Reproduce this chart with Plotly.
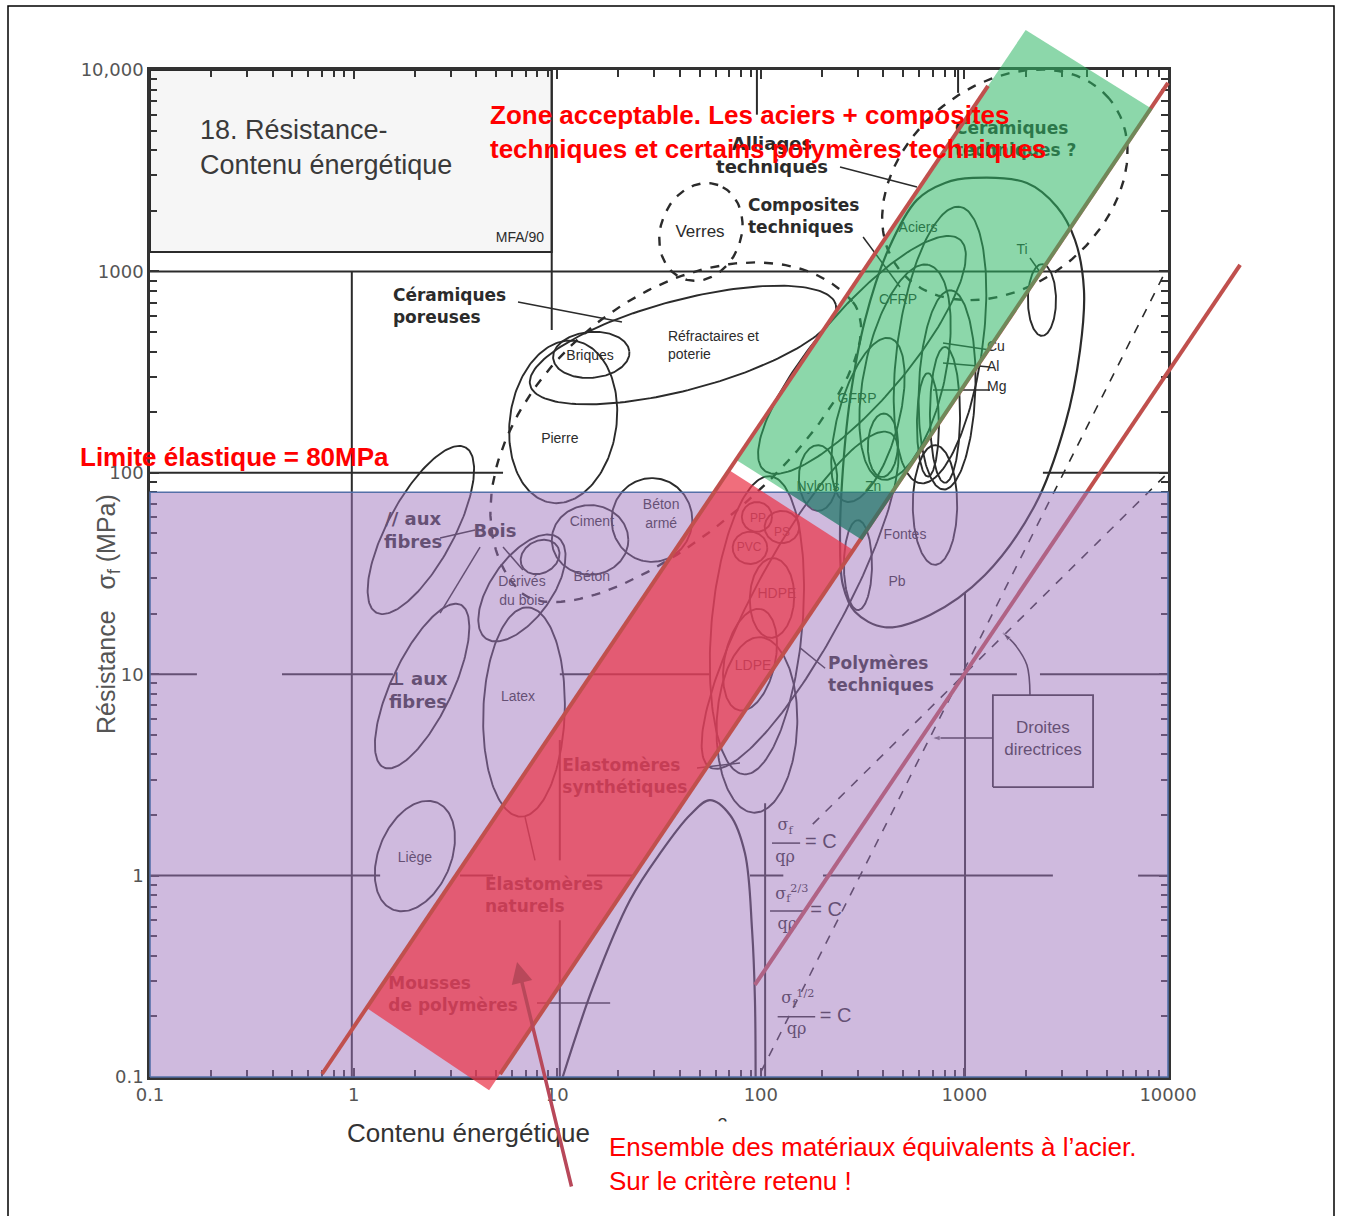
import numpy as np
import plotly.graph_objects as go

# ---------------------------------------------------------------- page geometry
# the figure must fit inside the page body (8 px default margin on each side)
PAGE_W, PAGE_H = 1351, 1232
FW, FH = PAGE_W - 16, PAGE_H - 16
PL, PR, PT, PB = 150, 1168, 70, 1077          # plot-area edges (px from figure corner)
X_LOG = (-1.0, 4.0)                           # 0.1 .. 10000 GJ/m3
Y_LOG = (-1.0, 4.0)                           # 0.1 .. 10000 MPa


def fx(px):
    return px / FW


def fy(py):
    return 1 - py / FH


tick_vals = [0.1, 1, 10, 100, 1000, 10000]
x_tick_text = ["0.1", "1", "10", "100", "1000", "10000"]
y_tick_text = ["0.1", "1", "10", "100", "1000", "10,000"]
minor_vals = [k * 10.0 ** d for d in range(-1, 4) for k in range(2, 10)]

# ---------------------------------------------------------------- chart rules
h_rule_s = [1250, 1000, 100, 100, 10, 10, 10, 10, 10, 1, 1, 1, 1, 1, 1]
h_rule_q0 = [0.1, 0.1, 0.1, 2430, 0.1, 0.445, 10.3, 849, 2350, 0.1, 3.33, 14.0, 88.5, 202, 7130]
h_rule_q1 = [9.4, 10000, 5.42, 10000, 0.17, 1.56, 56.2, 1811, 10000, 1.35, 4.84, 23.6, 129, 2720, 10000]
v_rule_q = [9.4, 0.98, 10.3, 10.3, 95.7, 105, 931, 1007]
v_rule_s0 = [512, 0.1, 1.19, 0.1, 6000, 0.1, 7700, 0.1]
v_rule_s1 = [10000, 1000, 4.71, 0.60, 10000, 2.29, 10000, 25.3]

title_box_q = [0.1, 9.4]
title_box_s = [1250, 10000]

# ---------------------------------------------------------------- envelopes
# ellipses in log-log space: centre (GJ/m3, MPa), half axes (decades), tilt (deg)
env_q = [2.14, 2.17, 2.0, 6.71, 8.24, 6.87, 10.7, 14.7, 41.5, 14.5, 29.2,
         759, 511, 314, 336, 822, 803, 662, 717, 2404, 398, 191, 300,
         95.7, 127, 88.5, 113.5, 88.5, 95.7, 95.7, 156]
env_s = [52.0, 8.73, 1.25, 26.8, 38.2, 6.49, 179, 385, 431, 46.4, 58.3,
         431, 316, 385, 183, 258, 194, 173, 69.2, 721, 137, 94.2, 34.8,
         60.4, 53.8, 42.4, 23.9, 11.8, 17.5, 5.6, 23.3]
env_major = [0.465, 0.446, 0.287, 0.307, 0.10, 0.52, 0.406, 0.188, 0.777, 0.188, 0.198,
             0.693, 0.545, 0.748, 0.42, 0.495, 0.337, 0.257, 0.297, 0.178, 0.158, 0.163, 0.223,
             0.074, 0.085, 0.085, 0.198, 0.257, 0.743, 0.436, 0.941]
env_minor = [0.163, 0.149, 0.178, 0.149, 0.08, 0.20, 0.262, 0.114, 0.223, 0.173, 0.208,
             0.208, 0.198, 0.223, 0.149, 0.139, 0.074, 0.054, 0.109, 0.069, 0.074, 0.094, 0.069,
             0.074, 0.08, 0.08, 0.109, 0.124, 0.223, 0.198, 0.223]
env_tilt = [62, 65, 68, 55, 30, 88, 82, 5, 15, 0, 0,
            82, 78, 50, 75, 88, 90, 90, 90, 90, 88, 90, 90,
            0, 0, 0, 88, 78, 85, 88, 62]

# dashed envelopes: glasses, engineering ceramics, porous ceramics
dash_q = [50.8, 1580, 42.4]
dash_s = [1570, 2690, 137]
dash_major = [0.248, 0.668, 1.089]
dash_minor = [0.198, 0.495, 0.743]
dash_minor_b = [0.198, 0.495, 0.411]
dash_tilt = [70, 40, 41]

metals_q = [1102, 2028, 2851, 3493, 3866, 3698, 3119, 2223, 1262, 678, 407, 290, 253,
            245, 251, 274, 325, 422, 585, 803]
metals_s = [2910, 2748, 2089, 1432, 809, 407, 173, 69.2, 31.1, 19.7, 17.1, 20.4, 27.7,
            46.4, 92, 230, 574, 1277, 2265, 2748]
arch_q = [10.3, 15.0, 22.8, 32.0, 44.9, 56.2, 70.6, 83.6, 90.6, 93.6, 94.3]
arch_s = [0.09, 0.28, 0.757, 1.29, 2.0, 2.37, 2.0, 1.29, 0.537, 0.241, 0.09]

lead_q0 = [6.42, 2.66, 4.18, 5.42, 7.78, 48.6, 7.96, 156, 318, 245, 785, 785, 701, 2100]
lead_s0 = [705, 47.5, 42.8, 42.8, 1.19, 3.42, 0.233, 13.5, 1483, 3300, 441, 351, 258, 1166]
lead_q1 = [20.8, 3.95, 2.66, 6.79, 6.95, 79, 18.2, 207, 483, 585, 1336, 1336, 1336, 2350]
lead_s1 = [561, 52, 20.1, 32.9, 1.95, 3.62, 0.233, 10.7, 837, 2624, 407, 335, 258, 993]

guide_slope = [1.0, 2.0]
guide_const = [0.01, 1.057e-5]
guide_q0 = [180, 100]
guide_q1 = [10000, 9500]

box_q = [1380, 4285]
box_s = [2.75, 7.88]
ptr_h_q = [1380, 690]
ptr_h_s = [4.82, 4.82]
ptr_arc_q = [2100, 2028, 1774, 1549]
ptr_arc_s = [7.88, 11.1, 14.0, 16.0]

frac_q0 = [113.5, 111, 121]
frac_q1 = [156, 165, 185]
frac_s = [1.45, 0.667, 0.199]
frac_num = ["σ<sub>f</sub>", "σ<sub>f</sub><sup>2/3</sup>", "σ<sub>f</sub><sup>1/2</sup>"]
frac_num_q = [131.5, 142, 152]
frac_num_s = [1.76, 0.80, 0.243]
frac_den_q = [131.5, 135, 150]
frac_den_s = [1.22, 0.569, 0.171]
frac_eq_q = [165, 175, 195]

bold_text = ["Bois", "// aux<br>fibres", "⊥ aux<br>fibres", "Alliages<br>techniques"]
bold_q = [4.95, 1.96, 2.07, 113.5]
bold_s = [50.8, 50.8, 8.16, 3700]
boldl_text = ["Céramiques<br>poreuses", "Elastomères<br>synthétiques", "Elastomères<br>naturels",
              "Mousses<br>de polymères", "Polymères<br>techniques", "Composites<br>techniques",
              "Céramiques<br>techniques ?"]
boldl_q = [1.56, 10.6, 4.42, 1.48, 214, 86.5, 899]
boldl_s = [658, 3.05, 0.783, 0.252, 9.8, 1841, 4440]
small_text = ["Briques", "Pierre", "Ciment", "Béton<br>armé", "Béton", "Dérivés<br>du bois",
              "Latex", "Liège", "Aciers", "Ti", "CFRP", "GFRP", "Nylons", "Zn", "Fontes", "Pb",
              "HDPE", "LDPE", "MFA/90"]
small_q = [14.5, 10.3, 14.8, 32.4, 14.8, 6.71, 6.42, 2.0, 592, 1919, 472, 297, 191, 356, 511, 467,
           120, 91.6, 6.56]
small_s = [380, 146, 56.4, 61.7, 30.1, 25.6, 7.62, 1.22, 1642, 1277, 713, 230, 85, 85, 49.1, 28.4,
           25, 10.9, 1465]
tiny_text = ["PP", "PS", "PVC"]
tiny_q = [96.8, 127, 87.5]
tiny_s = [59, 50.2, 42.4]
smalll_text = ["Réfractaires et<br>poterie", "Cu", "Al", "Mg"]
smalll_q = [35.0, 1291, 1291, 1291]
smalll_s = [422, 417, 335, 264]

# ---------------------------------------------------------------- overlays
elastic_limit = 80                     # MPa
band_exp = 1.5                         # sigma^(2/3)/(q rho) = C
band_const = [3.17e-4, 0.00862, 0.1767]
band_q0 = [93.5, 5.24, 0.70]
band_q1 = [22600, 10000, 1306]
red_zone_q = [1.16, 4.63, 284, 70]
red_zone_s = [0.22, 0.086, 41.4, 103]
green_zone_q = [75.5, 315, 8400, 2000]
green_zone_s = [116, 46.4, 6390, 15800]
pointer_tail = (11.8, 0.0281)
pointer_head = (6.35, 0.372)

INK = "#2b2b2b"
RED_LINE = "#C0504D"


def ellipse(q, s, a, b, tilt, b2=None, n=180):
    t = np.linspace(0, 2 * np.pi, n)
    th = np.radians(tilt)
    u = a * np.cos(t)
    bb = np.where(np.sin(t) >= 0, b, b if b2 is None else b2)
    v = bb * np.sin(t)
    lx = np.log10(q) + u * np.cos(th) - v * np.sin(th)
    ly = np.log10(s) + u * np.sin(th) + v * np.cos(th)
    return 10 ** lx, 10 ** ly


def segs(x0, y0, x1, y1):
    xs, ys = [], []
    for a, b, c, d in zip(x0, y0, x1, y1):
        xs += [a, c, None]
        ys += [b, d, None]
    return xs, ys


def clip_below(qs, ss, s_max):
    pts = list(zip(np.log10(qs), np.log10(ss)))
    lim = np.log10(s_max)
    out = []
    for i in range(len(pts)):
        cur, prev = pts[i], pts[i - 1]
        cin, pin = cur[1] <= lim, prev[1] <= lim
        if cin != pin:
            f = (lim - prev[1]) / (cur[1] - prev[1])
            out.append((prev[0] + f * (cur[0] - prev[0]), lim))
        if cin:
            out.append(cur)
    arr = np.array(out)
    return 10 ** arr[:, 0], 10 ** arr[:, 1]


fig = go.Figure()


def line(xs, ys, width=1.8, dash="solid", color=INK, xa="x", ya="y", shape="linear"):
    fig.add_trace(go.Scatter(x=xs, y=ys, mode="lines", xaxis=xa, yaxis=ya,
                             line=dict(color=color, width=width, dash=dash, shape=shape),
                             hoverinfo="skip", showlegend=False))


def text(xs, ys, labels, size, pos="middle center", color=INK, family="DejaVu Sans", bold=False):
    if bold:
        labels = ["<b>" + t + "</b>" for t in labels]
    fig.add_trace(go.Scatter(x=xs, y=ys, mode="text", text=labels, textposition=pos,
                             textfont=dict(size=size, color=color, family=family),
                             cliponaxis=False, hoverinfo="skip", showlegend=False))


# title box
fig.add_trace(go.Scatter(x=[title_box_q[0], title_box_q[1], title_box_q[1], title_box_q[0], title_box_q[0]],
                         y=[title_box_s[0], title_box_s[0], title_box_s[1], title_box_s[1], title_box_s[0]],
                         mode="lines", fill="toself", fillcolor="#f6f6f6",
                         line=dict(color=INK, width=2), hoverinfo="skip", showlegend=False))

hx, hy = segs(h_rule_q0, h_rule_s, h_rule_q1, h_rule_s)
line(hx, hy, width=2)
vx, vy = segs(v_rule_q, v_rule_s0, v_rule_q, v_rule_s1)
line(vx, vy, width=2)

for q, s, a, b, t in zip(env_q, env_s, env_major, env_minor, env_tilt):
    ex, ey = ellipse(q, s, a, b, t)
    line(ex, ey, width=1.9)
for q, s, a, b, b2, t in zip(dash_q, dash_s, dash_major, dash_minor, dash_minor_b, dash_tilt):
    ex, ey = ellipse(q, s, a, b, t, b2)
    line(ex, ey, width=2.4, dash="dash")
line(metals_q + metals_q[:1], metals_s + metals_s[:1], width=2.2, shape="spline")
line(arch_q, arch_s, width=2.2, shape="spline")

lx, ly = segs(lead_q0, lead_s0, lead_q1, lead_s1)
line(lx, ly, width=1.5)

for k, c, q0, q1 in zip(guide_slope, guide_const, guide_q0, guide_q1):
    line([q0, q1], [c * q0 ** k, c * q1 ** k], width=1.6, dash="dash")

line([box_q[0], box_q[1], box_q[1], box_q[0], box_q[0]],
     [box_s[0], box_s[0], box_s[1], box_s[1], box_s[0]], width=1.8)
for px_, py_, shp in [(ptr_h_q, ptr_h_s, "linear"), (ptr_arc_q, ptr_arc_s, "spline")]:
    n = len(px_)
    fig.add_trace(go.Scatter(x=px_, y=py_, mode="lines+markers",
                             line=dict(color=INK, width=1.6, shape=shp),
                             marker=dict(symbol="arrow", angleref="previous", color=INK,
                                         size=[0] * (n - 1) + [9]),
                             hoverinfo="skip", showlegend=False))

bx, by = segs(frac_q0, frac_s, frac_q1, frac_s)
line(bx, by, width=1.5)
text(frac_num_q, frac_num_s, frac_num, 16, family="DejaVu Serif")
text(frac_den_q, frac_den_s, ["qρ"] * 3, 16, family="DejaVu Serif")
text(frac_eq_q, frac_s, ["= C"] * 3, 20, pos="middle right", family="Liberation Sans")

text(bold_q, bold_s, bold_text, 18, bold=True)
text(boldl_q, boldl_s, boldl_text, 17, pos="middle right", bold=True)
text(small_q, small_s, small_text, 14, family="Liberation Sans")
text(tiny_q, tiny_s, tiny_text, 12, family="Liberation Sans")
text(smalll_q, smalll_s, smalll_text, 14, pos="middle right", family="Liberation Sans")
text([2430], [4.71], ["Droites<br>directrices"], 17, family="Liberation Sans")
text([50.3], [1552], ["Verres"], 17, family="Liberation Sans")
text([0.176], [4010], ["18. Résistance-<br>Contenu énergétique"], 27, pos="middle right",
     color="#3a3a3a", family="Liberation Sans")


# ---------------------------------------------------------------- overlay layer
def poly(xs, ys, fill, lw=0, lc="rgba(0,0,0,0)"):
    fig.add_trace(go.Scatter(x=list(xs) + [xs[0]], y=list(ys) + [ys[0]], mode="lines",
                             xaxis="x2", yaxis="y2", fill="toself", fillcolor=fill,
                             line=dict(color=lc, width=lw), hoverinfo="skip", showlegend=False))


def band_line(i):
    c = band_const[i]
    q0, q1 = band_q0[i], band_q1[i]
    line([q0, q1], [c * q0 ** band_exp, c * q1 ** band_exp], width=4, color=RED_LINE,
         xa="x2", ya="y2")


band_line(0)
poly([0.1, 10000, 10000, 0.1], [0.1, 0.1, elastic_limit, elastic_limit],
     "rgba(160,118,190,0.5)", lw=1.6, lc="#5470A8")
poly(red_zone_q, red_zone_s, "rgba(234,54,74,0.72)")
band_line(1)
poly(green_zone_q, green_zone_s, "rgba(46,182,100,0.55)")
cq, cs = clip_below(green_zone_q, green_zone_s, elastic_limit)
poly(cq, cs, "rgba(30,80,110,0.45)")
band_line(2)

# ---------------------------------------------------------------- layout
ppd_x = (PR - PL) / (X_LOG[1] - X_LOG[0])
ppd_y = (PB - PT) / (Y_LOG[1] - Y_LOG[0])
x2_range = [X_LOG[0] - PL / ppd_x, X_LOG[0] + (FW - PL) / ppd_x]
y2_range = [Y_LOG[0] - (FH - PB) / ppd_y, Y_LOG[1] + PT / ppd_y]

axis_common = dict(type="log", showgrid=False, zeroline=False, showline=True,
                   linecolor="#333", linewidth=2.5, mirror="allticks",
                   ticks="inside", ticklen=9, tickwidth=1.8, tickcolor="#333",
                   tickvals=tick_vals, automargin=False,
                   tickfont=dict(family="DejaVu Sans", size=18, color="#555"),
                   minor=dict(tickvals=minor_vals, ticks="inside", ticklen=7,
                              tickwidth=1.5, tickcolor="#333"))

fig.update_layout(
    width=FW, height=FH, autosize=False,
    margin=dict(l=0, r=0, t=0, b=0, pad=0),
    paper_bgcolor="white", plot_bgcolor="rgba(0,0,0,0)",
    xaxis=dict(axis_common, range=list(X_LOG), domain=[fx(PL), fx(PR)], anchor="y",
               ticktext=x_tick_text),
    yaxis=dict(axis_common, range=list(Y_LOG), domain=[fy(PB), fy(PT)], anchor="x",
               ticktext=y_tick_text),
    xaxis2=dict(type="log", range=x2_range, domain=[0, 1], anchor="y2", visible=False),
    yaxis2=dict(type="log", range=y2_range, domain=[0, 1], anchor="x2", visible=False),
    shapes=[dict(type="rect", xref="paper", yref="paper", x0=fx(8), x1=fx(FW - 1),
                 y0=-0.01, y1=fy(6), line=dict(color="black", width=1.5))],
    annotations=[
        dict(xref="paper", yref="paper", x=fx(345), y=fy(1131), xanchor="left",
             yanchor="middle", showarrow=False,
             text="Contenu énergétique  qρ (GJ.m<sup>-3</sup>)",
             font=dict(family="Liberation Sans", size=26, color="#333")),
        dict(xref="paper", yref="paper", x=fx(90), y=fy(614), textangle=-90,
             showarrow=False, text="Résistance   σ<sub>f</sub> (MPa)",
             font=dict(family="Liberation Sans", size=25, color="#555")),
        dict(xref="paper", yref="paper", x=fx(598), y=fy(1164), xanchor="left",
             yanchor="middle", showarrow=False, align="left", bgcolor="white", borderpad=10,
             text="Ensemble des matériaux équivalents à l’acier.<br>Sur le critère retenu !",
             font=dict(family="Liberation Sans", size=26, color="#FF0000")),
        dict(xref="paper", yref="paper", x=fx(78), y=fy(457), xanchor="left",
             yanchor="middle", showarrow=False, text="<b>Limite élastique = 80MPa</b>",
             font=dict(family="Liberation Sans", size=26, color="#FF0000")),
        dict(xref="paper", yref="paper", x=fx(488), y=fy(132), xanchor="left",
             yanchor="middle", showarrow=False, align="left",
             text="<b>Zone acceptable. Les aciers + composites<br>"
                  "techniques et certains polymères techniques</b>",
             font=dict(family="Liberation Sans", size=26, color="#FF0000")),
        dict(xref="x2", yref="y2", axref="x2", ayref="y2",
             x=np.log10(pointer_head[0]), y=np.log10(pointer_head[1]),
             ax=np.log10(pointer_tail[0]), ay=np.log10(pointer_tail[1]),
             text="", showarrow=True, arrowhead=2, arrowsize=1.2, arrowwidth=3.5,
             arrowcolor="#B8485A"),
    ],
)

fig.write_html("out.html")
